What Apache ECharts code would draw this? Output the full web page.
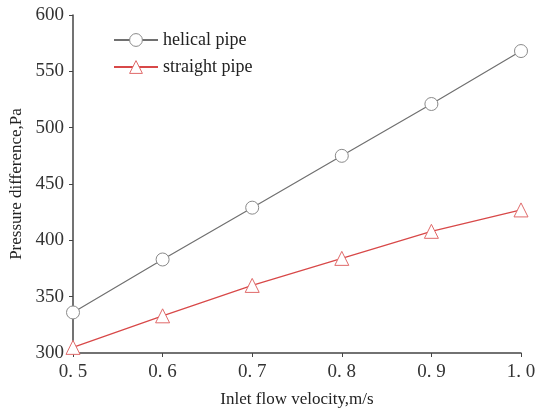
<!DOCTYPE html>
<html><head><meta charset="utf-8">
<script src="https://cdn.jsdelivr.net/npm/echarts@6/dist/echarts.min.js"></script>
<style>html,body{margin:0;padding:0;background:#fff}#c{width:537px;height:411px}</style>
</head><body><div id="c"></div>
<script>
const velocities = [0.5, 0.6, 0.7, 0.8, 0.9, 1.0];
const helicalPipe = [336, 383, 429, 475, 521, 568];
const straightPipe = [305, 333, 360, 384, 408, 427];
const seriesNames = ['helical pipe', 'straight pipe'];
const xTickLabels = {0.5:'0. 5',0.6:'0. 6',0.7:'0. 7',0.8:'0. 8',0.9:'0. 9',1:'1. 0'};

const font = 'Liberation Serif';
const chart = echarts.init(document.getElementById('c'));
chart.setOption({
  animation: false,
  backgroundColor: '#fff',
  grid: {left: 73, right: 16, top: 15, bottom: 58, containLabel: false, outerBoundsMode: 'none'},
  legend: {
    orient: 'vertical', left: 108, top: 26, itemGap: 10,
    itemWidth: 44, itemHeight: 16, itemGap: 9,
    textStyle: {fontFamily: font, fontSize: 18, color: '#222'},
    itemStyle: {borderWidth: 1},
    data: seriesNames
  },
  xAxis: {
    type: 'value', min: 0.5, max: 1.0, interval: 0.1,
    name: 'Inlet flow velocity,m/s', nameLocation: 'middle', nameGap: 38,
    nameTextStyle: {fontFamily: font, fontSize: 17, color: '#222'},
    axisLine: {lineStyle: {color: '#444', width: 1.5}},
    axisTick: {show: true, length: 4, lineStyle: {color: '#444'}},
    axisLabel: {fontFamily: font, fontSize: 19, color: '#333', margin: 10,
      formatter: v => xTickLabels[Math.round(v*10)/10] || ''},
    splitLine: {show: false}
  },
  yAxis: {
    type: 'value', min: 300, max: 600, interval: 50,
    name: 'Pressure difference,Pa', nameLocation: 'middle', nameGap: 48,
    nameTextStyle: {fontFamily: font, fontSize: 17, color: '#222'},
    axisLine: {show: true, lineStyle: {color: '#444', width: 1.5}},
    axisTick: {show: true, length: 4, lineStyle: {color: '#444'}},
    axisLabel: {fontFamily: font, fontSize: 19, color: '#333', margin: 9},
    splitLine: {show: false}
  },
  series: [
    {
      name: seriesNames[0], type: 'line',
      data: velocities.map((v,i) => [v, helicalPipe[i]]),
      symbol: 'circle', symbolSize: 13,
      lineStyle: {color: '#707070', width: 1.2},
      itemStyle: {color: '#fff', borderColor: '#8a8a8a', borderWidth: 1}
    },
    {
      name: seriesNames[1], type: 'line',
      data: velocities.map((v,i) => [v, straightPipe[i]]),
      symbol: 'triangle', symbolSize: 14,
      lineStyle: {color: '#d84848', width: 1.2},
      itemStyle: {color: '#fff', borderColor: '#e06a6a', borderWidth: 1}
    }
  ]
});
</script></body></html>
